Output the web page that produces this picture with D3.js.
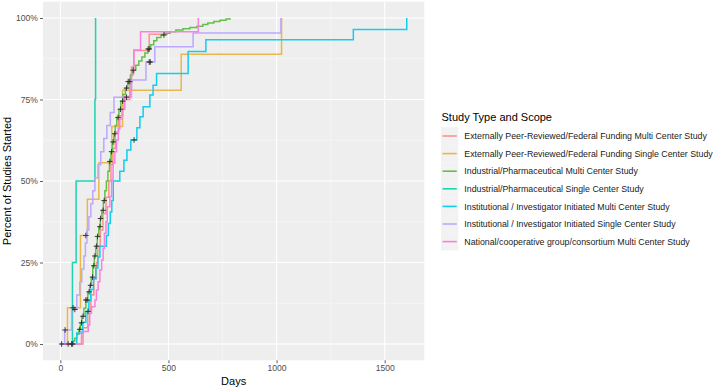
<!DOCTYPE html>
<html>
<head>
<meta charset="utf-8">
<script src="https://cdn.jsdelivr.net/npm/d3@7"></script>
<style>
body{margin:0;background:#fff;}
text{font-family:"Liberation Sans",Arial,sans-serif;}
</style>
</head>
<body>
<div id="chart-area"></div>
<script>
// series names (legend order)
var seriesNames=[
	"Externally Peer-Reviewed/Federal Funding Multi Center Study",
	"Externally Peer-Reviewed/Federal Funding Single Center Study",
	"Industrial/Pharmaceutical Multi Center Study",
	"Industrial/Pharmaceutical Single Center Study",
	"Institutional / Investigator Initiated Multi Center Study",
	"Institutional / Investigator Initiated Single Center Study",
	"National/cooperative group/consortium Multi Center Study"
];
var seriesColors=["#F8938B","#E8B84A","#62C147","#1DD3B1","#11CDEE","#BCA8FF","#FA80DF"];

// [day, cumulative share started]
var extMulti=[[105,0.05],[127,0.10],[141,0.15],[155,0.20],[167,0.25],[173,0.30],[185,0.35],[197,0.40],[211,0.45],[224,0.50],[234,0.55],[243,0.60],[254,0.65],[270,0.70],[289,0.75],[322,0.80],[329,0.85],[340,0.90],[411,0.95],[497,0.95]];
var extSingle=[[33,0.111],[93,0.333],[125,0.444],[178,0.556],[238,0.667],[288,0.778],[559,0.889],[1023,1.0]];
var indMulti=[[60,0.009],[67,0.018],[76,0.03],[86,0.045],[93,0.065],[99,0.085],[109,0.11],[118,0.135],[127,0.16],[136,0.18],[143,0.205],[150,0.24],[157,0.27],[164,0.30],[171,0.33],[178,0.36],[185,0.385],[192,0.41],[199,0.44],[206,0.47],[213,0.50],[220,0.53],[227,0.56],[234,0.59],[241,0.62],[248,0.645],[254,0.67],[261,0.695],[271,0.72],[280,0.745],[289,0.765],[301,0.785],[312,0.805],[324,0.825],[335,0.84],[349,0.855],[363,0.868],[377,0.88],[391,0.893],[405,0.905],[418,0.918],[432,0.93],[446,0.94],[465,0.948],[483,0.953],[507,0.958],[534,0.963],[567,0.967],[599,0.971],[632,0.975],[659,0.98],[682,0.985],[710,0.989],[738,0.993],[766,0.997],[784,1.0]];
var indSingle=[[56,0.25],[73,0.5],[160,0.75],[163,1.0]];
var instMulti=[[76,0.034],[104,0.067],[118,0.10],[132,0.133],[141,0.167],[153,0.20],[164,0.233],[174,0.267],[183,0.30],[213,0.333],[222,0.37],[231,0.405],[238,0.44],[245,0.50],[275,0.53],[294,0.564],[308,0.595],[326,0.626],[354,0.663],[368,0.697],[383,0.728],[414,0.764],[429,0.794],[445,0.83],[591,0.897],[673,0.933],[1355,0.965],[1602,1.0]];
var instSingle=[[20,0.043],[52,0.106],[76,0.15],[90,0.19],[99,0.23],[109,0.27],[116,0.31],[123,0.35],[132,0.39],[141,0.43],[150,0.47],[160,0.51],[174,0.55],[187,0.59],[201,0.63],[215,0.67],[231,0.71],[248,0.757],[329,0.81],[396,0.865],[437,0.912],[614,0.954],[1020,1.0]];
var natMulti=[[98,0.038],[129,0.058],[136,0.094],[144,0.114],[160,0.135],[167,0.166],[175,0.191],[183,0.227],[191,0.258],[198,0.294],[204,0.34],[211,0.375],[217,0.421],[229,0.452],[237,0.503],[244,0.555],[252,0.59],[260,0.626],[268,0.66],[275,0.69],[285,0.72],[298,0.759],[322,0.779],[329,0.83],[340,0.902],[371,0.958],[638,1.0]];

// censored days (+ marks)
var cens=[
	[],
	[59,118],
	[6,36,52,57,90,98,105,118,124,133,140,149,155,160,167,172,183,186,198,203,229,237,244,252,267,278,288,306,314,321,337,406,411,479],
	[],
	[128,341],
	[22,67,306,411,416],
	[]
];
var allSeries=[extMulti,extSingle,indMulti,indSingle,instMulti,instSingle,natMulti];

var xTicks=[0,500,1000,1500];
var yTicks=[0,0.25,0.5,0.75,1];

var W=715,H=389;
var panel={left:43,right:424.3,top:1.7,bottom:360.3};

var svg=d3.select("#chart-area").append("svg")
	.attr("width",W)
	.attr("height",H);

svg.append("rect").attr("width",W).attr("height",H).attr("fill","#fff");

// ggplot style expand 5%
var x=d3.scaleLinear().domain([-80.15,1683.15]).range([panel.left,panel.right]);
var y=d3.scaleLinear().domain([-0.05,1.05]).range([panel.bottom,panel.top]);

svg.append("rect")
	.attr("x",panel.left).attr("y",panel.top)
	.attr("width",panel.right-panel.left)
	.attr("height",panel.bottom-panel.top)
	.attr("fill","#EEEEEE");

var grid=svg.append("g");
[250,750,1250].forEach(function(d){
	grid.append("line").attr("x1",x(d)).attr("x2",x(d)).attr("y1",panel.top).attr("y2",panel.bottom)
		.attr("stroke","#F8F8F8").attr("stroke-width",0.6);
});
[0.125,0.375,0.625,0.875].forEach(function(d){
	grid.append("line").attr("y1",y(d)).attr("y2",y(d)).attr("x1",panel.left).attr("x2",panel.right)
		.attr("stroke","#F8F8F8").attr("stroke-width",0.6);
});
xTicks.forEach(function(d){
	grid.append("line").attr("x1",x(d)).attr("x2",x(d)).attr("y1",panel.top).attr("y2",panel.bottom)
		.attr("stroke","#fff").attr("stroke-width",1.1);
});
yTicks.forEach(function(d){
	grid.append("line").attr("y1",y(d)).attr("y2",y(d)).attr("x1",panel.left).attr("x2",panel.right)
		.attr("stroke","#fff").attr("stroke-width",1.1);
});

// axes
var bottomAxis=d3.axisBottom(x).tickValues(xTicks).tickSize(3).tickPadding(2).tickFormat(d3.format("d"));
var leftAxis=d3.axisLeft(y).tickValues(yTicks).tickSize(3).tickPadding(2).tickFormat(d3.format(".0%"));

var gx=svg.append("g").attr("transform","translate(0,"+panel.bottom+")").call(bottomAxis);
var gy=svg.append("g").attr("transform","translate("+panel.left+",0)").call(leftAxis);
[gx,gy].forEach(function(g){
	g.select(".domain").remove();
	g.selectAll(".tick line").attr("stroke","#333").attr("stroke-width",0.8);
	g.selectAll("text").attr("fill","#4D4D4D").attr("font-size","8.6px").attr("font-family","Liberation Sans, Arial, sans-serif");
});

svg.append("text")
	.attr("x",(panel.left+panel.right)/2)
	.attr("y",385)
	.attr("font-size","11px")
	.attr("text-anchor","middle")
	.attr("fill","#000")
	.text("Days");

svg.append("text")
	.attr("transform","translate(10.5,"+((panel.top+panel.bottom)/2)+") rotate(-90)")
	.attr("font-size","11px")
	.attr("text-anchor","middle")
	.attr("fill","#000")
	.text("Percent of Studies Started");

// step curves
var line=d3.line()
	.x(function(d){return x(d[0]);})
	.y(function(d){return y(d[1]);})
	.curve(d3.curveStepAfter);

var lines=svg.append("g");
allSeries.forEach(function(s,i){
	var pts=[[0,0]].concat(s);
	lines.append("path")
		.attr("d",line(pts))
		.attr("fill","none")
		.attr("stroke",seriesColors[i])
		.attr("stroke-width",1.5);
});

function valueAt(s,t){
	var v=0;
	s.forEach(function(d){ if(d[0]<=t) v=d[1]; });
	return v;
}

var marks=svg.append("g");
cens.forEach(function(c,i){
	c.forEach(function(t){
		marks.append("path")
			.attr("transform","translate("+x(t)+","+y(valueAt(allSeries[i],t))+")")
			.attr("d","M-2.8,0H2.8M0,-2.8V2.8")
			.attr("stroke","#2a2a2a")
			.attr("stroke-width",0.9);
	});
});

// legend
var legend=svg.append("g").attr("transform","translate(441,0)");
legend.append("text")
	.attr("x",0.5)
	.attr("y",120.5)
	.attr("font-size","11px")
	.attr("fill","#000")
	.text("Study Type and Scope");

seriesNames.forEach(function(d,i){
	var cy=136+i*17.6;
	var row=legend.append("g").attr("transform","translate(0,"+cy+")");
	row.append("rect")
		.attr("x",0).attr("y",-8.8)
		.attr("width",17.3).attr("height",17.6)
		.attr("fill","#F2F2F2");
	row.append("line")
		.attr("x1",1.5).attr("x2",15.8)
		.attr("stroke",seriesColors[i])
		.attr("stroke-width",1.6);
	row.append("text")
		.attr("x",23.3)
		.attr("y",3.1)
		.attr("font-size","8.8px")
		.attr("fill","#1a1a1a")
		.text(d);
});
</script>
</body>
</html>
